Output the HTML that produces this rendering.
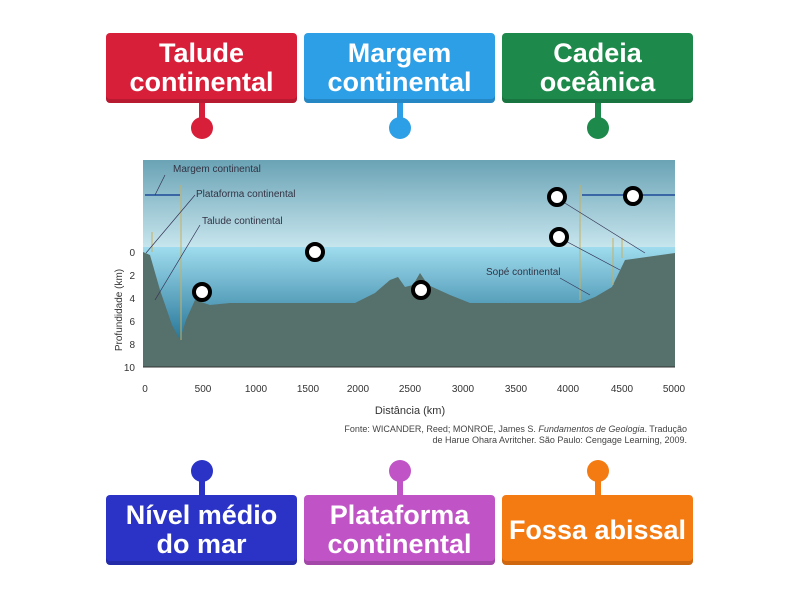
<!DOCTYPE html>
<html><head><meta charset="utf-8"><style>
body{margin:0;width:800px;height:600px;background:#fff;overflow:hidden;position:relative;font-family:"Liberation Sans",sans-serif}
.b{position:absolute;width:191px;height:70px;border-radius:4px;color:#fff;font-weight:bold;font-size:27px;line-height:29px;display:flex;align-items:center;justify-content:center;text-align:center;box-shadow:inset 0 -4px 0 rgba(0,0,0,.15)}
.s{position:absolute;width:6px}
.p{position:absolute;width:22px;height:22px;border-radius:50%}
</style></head><body>
<div class="b" style="left:106px;top:33px;background:#d81f3a">Talude<br>continental</div>
<div class="b" style="left:304px;top:33px;background:#2c9fe6">Margem<br>continental</div>
<div class="b" style="left:502px;top:33px;background:#1d8a4b">Cadeia<br>oceânica</div>
<div class="s" style="left:199px;top:103px;height:20px;background:#d81f3a"></div><div class="p" style="left:191px;top:117px;background:#d81f3a"></div>
<div class="s" style="left:397px;top:103px;height:20px;background:#2c9fe6"></div><div class="p" style="left:389px;top:117px;background:#2c9fe6"></div>
<div class="s" style="left:595px;top:103px;height:20px;background:#1d8a4b"></div><div class="p" style="left:587px;top:117px;background:#1d8a4b"></div>
<div class="b" style="left:106px;top:495px;background:#2a33c6">Nível médio<br>do mar</div>
<div class="b" style="left:304px;top:495px;background:#c054c6">Plataforma<br>continental</div>
<div class="b" style="left:502px;top:495px;background:#f47a12">Fossa abissal</div>
<div class="s" style="left:199px;top:476px;height:20px;background:#2a33c6"></div><div class="p" style="left:191px;top:460px;background:#2a33c6"></div>
<div class="s" style="left:397px;top:476px;height:20px;background:#c054c6"></div><div class="p" style="left:389px;top:460px;background:#c054c6"></div>
<div class="s" style="left:595px;top:476px;height:20px;background:#f47a12"></div><div class="p" style="left:587px;top:460px;background:#f47a12"></div>
<svg style="position:absolute;left:0;top:0" width="800" height="600">
<defs>
<linearGradient id="sky" x1="0" y1="0" x2="0" y2="1"><stop offset="0" stop-color="#6aa3b5"/><stop offset="1" stop-color="#c8e6ee"/></linearGradient>
<linearGradient id="wat" x1="0" y1="0" x2="0" y2="1"><stop offset="0" stop-color="#9fdcee"/><stop offset="1" stop-color="#1f6f93"/></linearGradient>
</defs>
<rect x="143" y="160" width="532" height="88" fill="url(#sky)"/>
<rect x="143" y="247" width="532" height="100" fill="url(#wat)"/>
<polygon fill="#56706b" points="143,252 150,255 160,290 172,325 180,340 186,320 195,300 210,305 230,303 355,303 375,293 390,280 398,277 405,287 413,285 420,273 428,285 450,295 470,303 580,303 595,297 612,287 625,260 675,253 675,367 143,367"/>
<g stroke="#c8b060" stroke-width="1"><line x1="181" y1="185" x2="181" y2="340"/><line x1="152" y1="232" x2="152" y2="252"/><line x1="580" y1="185" x2="580" y2="300"/><line x1="613" y1="238" x2="613" y2="285"/><line x1="622" y1="238" x2="622" y2="258"/></g>
<g stroke="#1f4a9a" stroke-width="1.5"><line x1="145" y1="195" x2="180" y2="195"/><line x1="582" y1="195" x2="675" y2="195"/></g>
<g stroke="#335" stroke-width="0.7"><line x1="155" y1="195" x2="165" y2="175"/><line x1="146" y1="253" x2="195" y2="195"/><line x1="155" y1="300" x2="200" y2="225"/><line x1="560" y1="200" x2="645" y2="253"/><line x1="560" y1="238" x2="620" y2="270"/><line x1="560" y1="278" x2="590" y2="295"/></g>
<g font-size="10" fill="#334"><text x="173" y="172">Margem continental</text><text x="196" y="197">Plataforma continental</text><text x="202" y="224">Talude continental</text><text x="486" y="275">Sopé continental</text></g>
<line x1="143" y1="367" x2="675" y2="367" stroke="#333"/>
<g font-size="10" fill="#333" text-anchor="middle">
<text x="145" y="392">0</text><text x="203" y="392">500</text><text x="256" y="392">1000</text><text x="308" y="392">1500</text><text x="358" y="392">2000</text><text x="410" y="392">2500</text><text x="463" y="392">3000</text><text x="516" y="392">3500</text><text x="568" y="392">4000</text><text x="622" y="392">4500</text><text x="674" y="392">5000</text>
<text x="410" y="414" font-size="11">Distância (km)</text></g>
<g font-size="10" fill="#333" text-anchor="end"><text x="135" y="256">0</text><text x="135" y="279">2</text><text x="135" y="302">4</text><text x="135" y="325">6</text><text x="135" y="348">8</text><text x="135" y="371">10</text></g>
<text transform="translate(122,310) rotate(-90)" font-size="10" fill="#333" text-anchor="middle">Profundidade (km)</text>
<g font-size="9" fill="#444" text-anchor="end"><text x="687" y="432">Fonte: WICANDER, Reed; MONROE, James S. <tspan font-style="italic">Fundamentos de Geologia</tspan>. Tradução</text><text x="687" y="443">de Harue Ohara Avritcher. São Paulo: Cengage Learning, 2009.</text></g>
<g fill="#fff" stroke="#000" stroke-width="4"><circle cx="202" cy="292" r="8"/><circle cx="315" cy="252" r="8"/><circle cx="421" cy="290" r="8"/><circle cx="557" cy="197" r="8"/><circle cx="633" cy="196" r="8"/><circle cx="559" cy="237" r="8"/></g>
</svg>
</body></html>
